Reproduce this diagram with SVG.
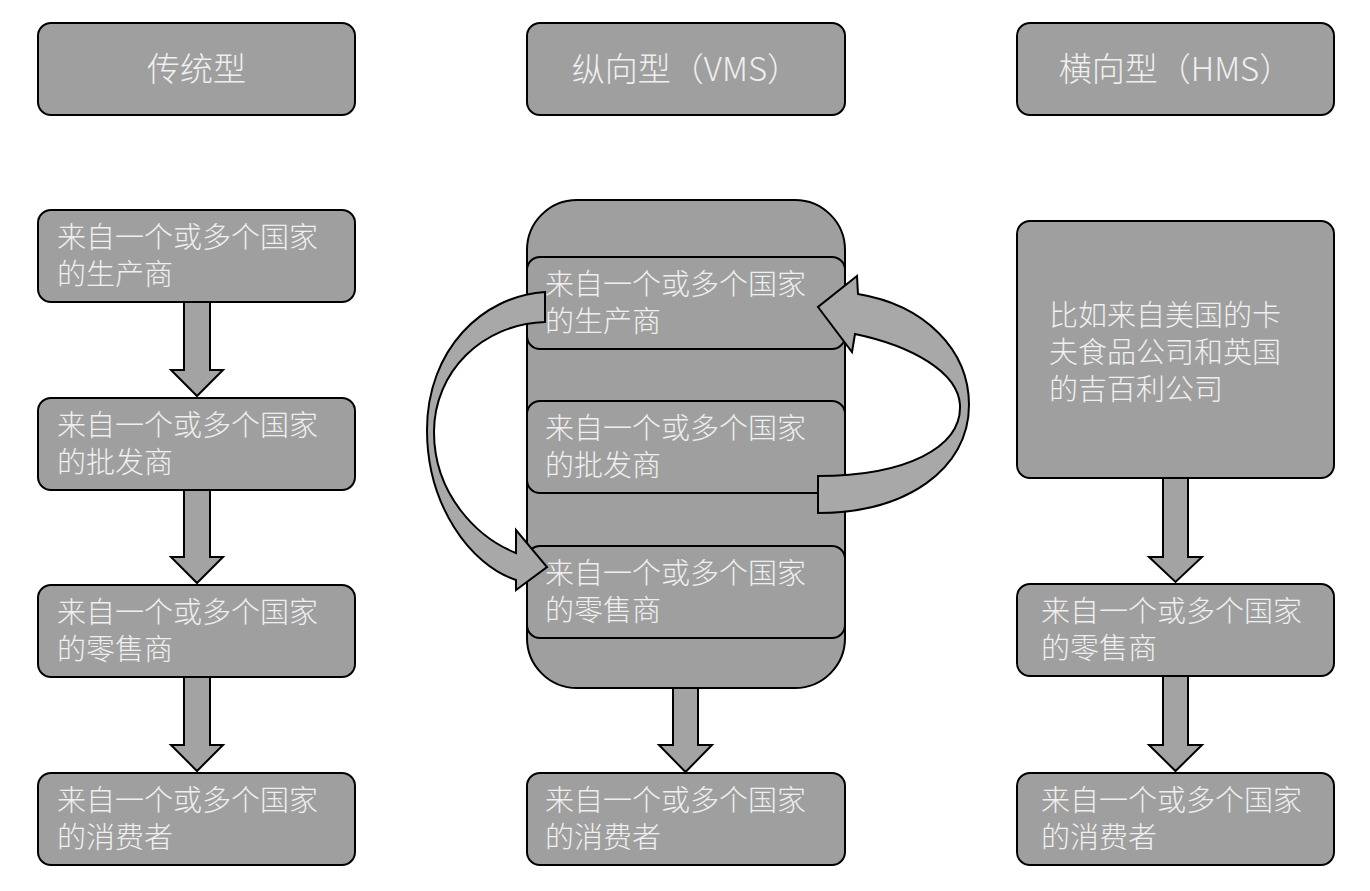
<svg xmlns="http://www.w3.org/2000/svg" width="1370" height="891" viewBox="0 0 1370 891">
<style>
.box{fill:#9f9f9f;stroke:#000;stroke-width:2}
.arr{fill:#a3a3a3;stroke:#000;stroke-width:2;stroke-linejoin:miter}
.carr{fill:#a8a8a8;stroke:#000;stroke-width:2;stroke-linejoin:miter}
.t{font-family:"Noto Sans CJK SC","Noto Sans",sans-serif;font-weight:300;font-size:29px;fill:#efefef}
.h{font-family:"Noto Sans CJK SC","Noto Sans",sans-serif;font-weight:300;font-size:33px;fill:#efefef;text-anchor:middle}
</style>
<rect width="1370" height="891" fill="#fff"/>
<g id="h-traditional"><rect class="box" x="38" y="23" width="317" height="92" rx="13"/><text class="h" x="196.5" y="81">传统型</text></g>
<g id="h-vms"><rect class="box" x="527" y="23" width="318" height="92" rx="13"/><text class="h" x="686" y="81">纵向型（VMS）</text></g>
<g id="h-hms"><rect class="box" x="1017" y="23" width="317" height="92" rx="13"/><text class="h" x="1175.5" y="81">横向型（HMS）</text></g>

<g id="l-producer"><rect class="box" x="38" y="210" width="317" height="92" rx="13"/><text class="t" x="57" y="248">来自一个或多个国家</text><text class="t" x="57" y="285">的生产商</text></g>
<g id="l-wholesaler"><rect class="box" x="38" y="398" width="317" height="92" rx="13"/><text class="t" x="57" y="436">来自一个或多个国家</text><text class="t" x="57" y="473">的批发商</text></g>
<g id="l-retailer"><rect class="box" x="38" y="585" width="317" height="92" rx="13"/><text class="t" x="57" y="623">来自一个或多个国家</text><text class="t" x="57" y="660">的零售商</text></g>
<g id="l-consumer"><rect class="box" x="38" y="773" width="317" height="92" rx="13"/><text class="t" x="57" y="811">来自一个或多个国家</text><text class="t" x="57" y="848">的消费者</text></g>

<g id="m-container"><rect class="box" x="527" y="200" width="318" height="488" rx="50"/></g>
<g id="m-producer"><rect class="box" x="527" y="257" width="318" height="92" rx="13"/><text class="t" x="545" y="295">来自一个或多个国家</text><text class="t" x="545" y="332">的生产商</text></g>
<g id="m-wholesaler"><rect class="box" x="527" y="401" width="318" height="92" rx="13"/><text class="t" x="545" y="439">来自一个或多个国家</text><text class="t" x="545" y="476">的批发商</text></g>
<g id="m-retailer"><rect class="box" x="527" y="546" width="318" height="92" rx="13"/><text class="t" x="545" y="584">来自一个或多个国家</text><text class="t" x="545" y="621">的零售商</text></g>
<g id="m-consumer"><rect class="box" x="527" y="773" width="318" height="92" rx="13"/><text class="t" x="545" y="811">来自一个或多个国家</text><text class="t" x="545" y="848">的消费者</text></g>

<g id="r-example"><rect class="box" x="1017" y="221" width="317" height="257" rx="13"/><text class="t" x="1049" y="326">比如来自美国的卡</text><text class="t" x="1049" y="363">夫食品公司和英国</text><text class="t" x="1049" y="400">的吉百利公司</text></g>
<g id="r-retailer"><rect class="box" x="1017" y="584" width="317" height="92" rx="13"/><text class="t" x="1041" y="622">来自一个或多个国家</text><text class="t" x="1041" y="659">的零售商</text></g>
<g id="r-consumer"><rect class="box" x="1017" y="773" width="317" height="92" rx="13"/><text class="t" x="1041" y="811">来自一个或多个国家</text><text class="t" x="1041" y="848">的消费者</text></g>

<g id="connectors">
<polygon class="arr" points="184,302 210,302 210,370 223,370 197,396 171,370 184,370"/>
<polygon class="arr" points="184,490 210,490 210,557 223,557 197,583 171,557 184,557"/>
<polygon class="arr" points="184,677 210,677 210,745 223,745 197,771 171,745 184,745"/>
<polygon class="arr" points="673,688 698,688 698,745 712,745 685.5,772 659,745 673,745"/>
<polygon class="arr" points="1163,478 1188,478 1188,557 1202,557 1175.5,582 1149,557 1163,557"/>
<polygon class="arr" points="1163,676 1188,676 1188,745 1202,745 1175.5,771 1149,745 1163,745"/>
<path class="carr" d="M545,292 C482,296 427,350 427,430 C427,505 470,565 516,580 L516,590 L547,567 L516,530 L516,553 C478,538 434,495 434,432 C434,372 482,324 545,322 Z"/>
<path class="carr" d="M818,513 C905,513 969,470 969,405 C969,350 925,305 858,294 L857,276 L818,307 L852,352 L855,334 C912,346 958,372 960,405 C962,448 905,476 818,476 Z"/>
</g>
</svg>
